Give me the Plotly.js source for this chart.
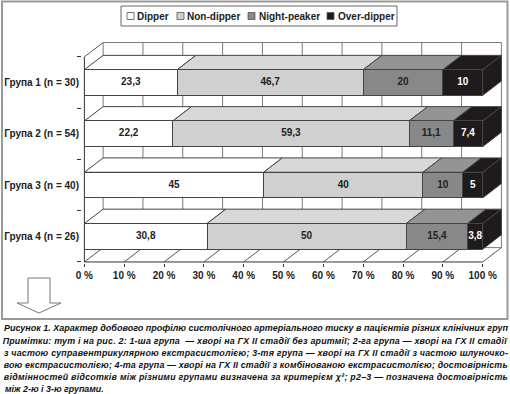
<!DOCTYPE html>
<html>
<head>
<meta charset="utf-8">
<script src="https://cdn.plot.ly/plotly-3.0.1.min.js"></script>
<style>
  html, body { margin: 0; padding: 0; background: #fff; }
  #chart { width: 510px; height: 394px; }
</style>
</head>
<body>
<div id="chart"></div>
<script>
// ---------- data ----------
const groups = ['Група 1 (n = 30)', 'Група 2 (n = 54)', 'Група 3 (n = 40)', 'Група 4 (n = 26)'];
const seriesNames = ['Dipper', 'Non-dipper', 'Night-peaker', 'Over-dipper'];
const dipper = [23.3, 22.2, 45, 30.8];
const nonDipper = [46.7, 59.3, 40, 50];
const nightPeaker = [20, 11.1, 10, 15.4];
const overDipper = [10, 7.4, 5, 3.8];
const xTickVals = [0, 10, 20, 30, 40, 50, 60, 70, 80, 90, 100];
const xTickText = ['0 %', '10 %', '20 %', '30 %', '40 %', '50 %', '60 %', '70 %', '80 %', '90 %', '100 %'];
const groupPos = [3, 2, 1, 0];

const captionTitle = 'Рисунок 1. Характер добового профілю систолічного артеріального тиску в пацієнтів різних клінічних груп';
const noteLines = [
  'Примітки: тут і на рис. 2: 1-ша група  — хворі на ГХ II стадії без аритмії; 2-га група — хворі на ГХ II стадії',
  'з частою суправентрикулярною екстрасистолією; 3-тя група — хворі на ГХ II стадії з частою шлуночко-',
  'вою екстрасистолією; 4-та група — хворі на ГХ II стадії з комбінованою екстрасистолією; достовірність',
  'відмінностей відсотків між різними групами визначена за критерієм χ²; p2–3 — позначена достовірність',
  'між 2-ю і 3-ю групами.'
];

// ---------- styles ----------
const series = [dipper, nonDipper, nightPeaker, overDipper];
const frontColors = ['#ffffff', '#d0d0d0', '#888888', '#1f1b1c'];
const topColors = ['#ffffff', '#d8d8d8', '#949494', '#1f1b1c'];
const labelColors = ['#222222', '#222222', '#222222', '#ffffff'];
const edge = '#444444';
const wallLine = '#7a7a7a';
const FONT = 'Liberation Sans, Arial, sans-serif';

const L = 82, T = 41, W = 421, H = 222;
const DX = 4.7, DY = 0.28, BW = 0.5;
const PX = px => (px - L) / W;
const PY = py => 1 - (py - T) / H;

const fmt = v => String(v).replace('.', ',');

// ---------- traces ----------
const traces = series.map((vals, i) => ({
  type: 'bar', orientation: 'h', name: seriesNames[i],
  x: vals, y: groupPos, width: BW,
  marker: { color: frontColors[i], line: { color: edge, width: 1 } },
  textposition: 'none', hoverinfo: 'skip', showlegend: false
}));

const lx = [], ly = [], lt = [], lc = [];
groupPos.forEach((gy, r) => {
  let cum = 0;
  series.forEach((vals, i) => {
    lx.push(cum + vals[r] / 2); ly.push(gy); lt.push(fmt(vals[r])); lc.push(labelColors[i]);
    cum += vals[r];
  });
});
traces.push({
  type: 'scatter', mode: 'text', x: lx, y: ly, text: lt,
  textposition: 'middle center', cliponaxis: false, hoverinfo: 'skip', showlegend: false,
  textfont: { family: FONT, size: 10, color: lc, weight: 'bold' }
});

// ---------- 3D frame shapes ----------
const shapes = [];
const poly = (pts, fill, lineColor) => ({
  type: 'path', xref: 'x', yref: 'y', layer: 'below',
  path: 'M' + pts.map(p => p[0] + ',' + p[1]).join('L') + 'Z',
  fillcolor: fill, line: { color: lineColor, width: 1 }
});
const seg = (x0, y0, x1, y1, c) => ({
  type: 'line', xref: 'x', yref: 'y', layer: 'below',
  x0: x0, y0: y0, x1: x1, y1: y1, line: { color: c, width: 1 }
});
const yBot = -0.5, yTop = groupPos.length - 0.5;
const xMax = xTickVals[xTickVals.length - 1];
// back wall
xTickVals.forEach(v => shapes.push(seg(v + DX, yBot + DY, v + DX, yTop + DY, wallLine)));
shapes.push(seg(DX, yTop + DY, xMax + DX, yTop + DY, wallLine));
shapes.push(seg(DX, yBot + DY, xMax + DX, yBot + DY, wallLine));
// floor
xTickVals.forEach(v => shapes.push(seg(v, yBot, v + DX, yBot + DY, '#555')));
shapes.push(seg(0, yBot, xMax, yBot, '#333'));
// left wall
shapes.push(seg(0, yBot, 0, yTop, '#333'));
shapes.push(seg(0, yTop, DX, yTop + DY, '#555'));
// bar tops and right faces
groupPos.forEach((gy, r) => {
  let cum = 0;
  const yt = gy + BW / 2, yb = gy - BW / 2;
  series.forEach((vals, i) => {
    const x0 = cum, x1 = cum + vals[r];
    shapes.push(poly([[x0, yt], [x1, yt], [x1 + DX, yt + DY], [x0 + DX, yt + DY]], topColors[i], edge));
    cum = x1;
  });
  const last = series.length - 1;
  shapes.push(poly([[cum, yb], [cum + DX, yb + DY], [cum + DX, yt + DY], [cum, yt]], topColors[last], edge));
});

// ---------- paper-level decoration ----------
// outer frame
shapes.push({ type: 'rect', xref: 'paper', yref: 'paper', layer: 'below',
  x0: PX(2), x1: PX(507.5), y0: PY(319), y1: PY(1.5), line: { color: '#9a9a9a', width: 2 } });
// legend box
shapes.push({ type: 'rect', xref: 'paper', yref: 'paper',
  x0: PX(121), x1: PX(397), y0: PY(26), y1: PY(6), line: { color: '#666', width: 1 }, fillcolor: '#fff' });
const legSq = [127, 177, 248, 327];
const legTx = [135, 185, 257, 336];
const annotations = [];
seriesNames.forEach((n, i) => {
  shapes.push({ type: 'rect', xref: 'paper', yref: 'paper',
    x0: PX(legSq[i]), x1: PX(legSq[i] + 7), y0: PY(19.5), y1: PY(12.5),
    fillcolor: frontColors[i], line: { color: '#555', width: 0.8 } });
  annotations.push({ xref: 'paper', yref: 'paper', x: PX(legTx[i]), y: PY(16), xanchor: 'left', yanchor: 'middle',
    text: n, showarrow: false, font: { family: FONT, size: 10, color: '#222', weight: 'bold' } });
});
// down arrow
const arrow = [[28, 278], [50, 278], [50, 303], [61, 303], [39, 313], [17, 303], [28, 303]];
shapes.push({ type: 'path', xref: 'paper', yref: 'paper',
  path: 'M' + arrow.map(p => PX(p[0]) + ',' + PY(p[1])).join('L') + 'Z',
  fillcolor: '#fff', line: { color: '#777', width: 1 } });

// caption
const justifyIdx = [];
justifyIdx.push(annotations.length);
annotations.push({ xref: 'paper', yref: 'paper', x: PX(255.5), y: PY(328), xanchor: 'center', yanchor: 'middle',
  text: captionTitle, showarrow: false, font: { family: FONT, size: 9.0, color: '#111', weight: 'bold', style: 'italic' } });
const noteY = [341, 353, 365, 377, 388.5];
noteLines.forEach((t, i) => {
  const full = i < noteLines.length - 1;
  if (full) justifyIdx.push(annotations.length);
  annotations.push({ xref: 'paper', yref: 'paper', x: full ? PX(255.5) : PX(3), y: PY(noteY[i]),
    xanchor: full ? 'center' : 'left', yanchor: 'middle',
    text: t, showarrow: false, font: { family: FONT, size: 8.9, color: '#111', weight: 'bold', style: 'italic' } });
});

const layout = {
  width: 510, height: 394,
  margin: { l: L, r: 510 - L - W, t: T, b: 394 - T - H, pad: 0 },
  paper_bgcolor: '#fff', plot_bgcolor: '#fff',
  barmode: 'stack', showlegend: false, hovermode: false,
  xaxis: {
    range: [-0.6, xMax + DX + 0.4], tickmode: 'array', tickvals: xTickVals, ticktext: xTickText,
    ticks: 'outside', ticklen: 3, tickcolor: '#333', showgrid: false, zeroline: false, showline: false,
    tickfont: { family: FONT, size: 10, color: '#222', weight: 'bold' }, fixedrange: true
  },
  yaxis: {
    range: [-0.52, yTop + DY + 0.03], tickmode: 'array', tickvals: groupPos, ticktext: groups,
    ticks: '', showgrid: false, zeroline: false, showline: false, ticklabelstandoff: 2,
    tickfont: { family: FONT, size: 10, color: '#222', weight: 'bold' },
    minor: { tickmode: 'array', tickvals: [-0.5, 0.5, 1.5, 2.5, 3.5], ticks: 'outside', ticklen: 4, tickcolor: '#333', showgrid: false },
    fixedrange: true
  },
  shapes: shapes,
  annotations: annotations
};

Plotly.newPlot('chart', traces, layout, { staticPlot: true, displayModeBar: false }).then(() => {
  const targetW = 504;
  document.querySelectorAll('#chart .annotation').forEach(g => {
    const idx = +g.getAttribute('data-index');
    if (justifyIdx.indexOf(idx) >= 0) {
      const t = g.querySelector('text.annotation-text');
      if (t) {
        const natural = t.getComputedTextLength();
        t.setAttribute('textLength', targetW);
        t.setAttribute('lengthAdjust', natural > targetW ? 'spacingAndGlyphs' : 'spacing');
      }
    }
  });
});
</script>
</body>
</html>
